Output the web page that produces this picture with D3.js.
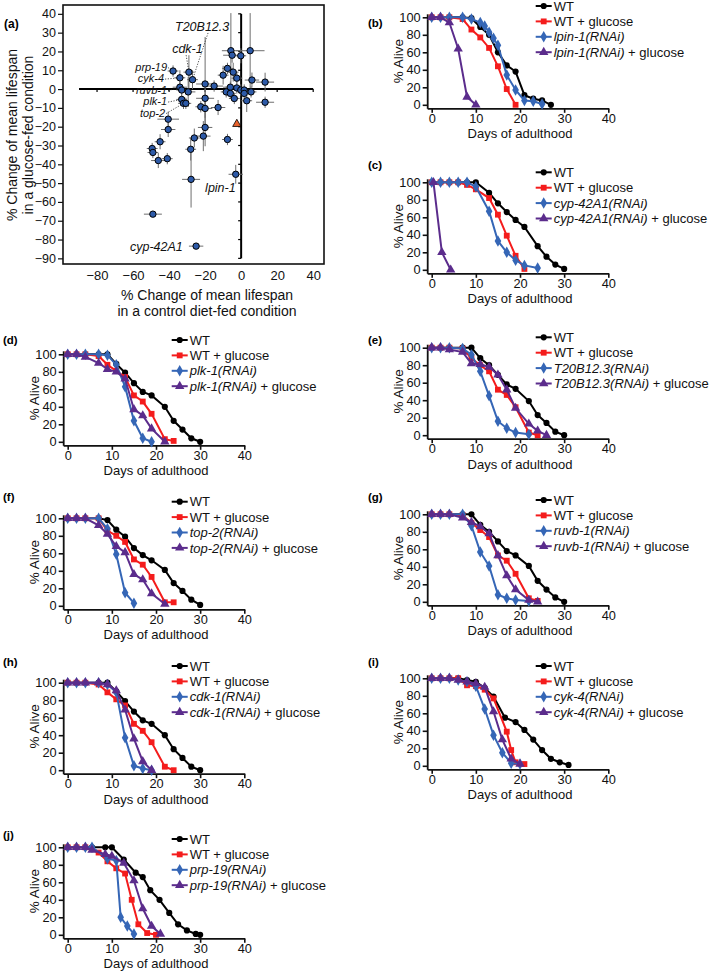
<!DOCTYPE html>
<html><head><meta charset="utf-8">
<script src="https://cdn.jsdelivr.net/npm/d3@7"></script>
<style>body{margin:0;background:#fff} svg{display:block;font-family:"Liberation Sans",Arial,sans-serif}</style>
</head><body><svg id="c" width="709" height="972"></svg>
<script>
// ---------------- DATA: panel (a) scatter ----------------
const scatterX = [-37.8,-34,-34,-33,-33,-32,-30.7,-29.4,-29,-27,-20,-15,-20,-22.4,-20,-12.8,-20,-21,-26,-28,-7.6,-5.7,-5,5,-0.2,-7.6,-10,-4.4,-2.4,6,13.3,-6,-8.3,-6,-3.8,-2.4,-0.2,1.7,1.7,5.5,3.1,13.3,-40.5,-40.5,-45,-49.4,-49,-46,-41,-27.8,-3,-49,-25];
const scatterY = [9.6,6,1,-0.5,-5.5,-7.6,-7.6,-1.5,9,5,2.7,1.6,-4.9,-9.4,-10.3,-9.8,-20.4,-25,-26,-32,-26.8,20.4,18,20.4,17.7,11,7.4,9,5.8,4.8,3.7,1,-1.5,-2.3,-5,0.6,-0.5,-0.5,-2.3,-1.5,-6.2,-7,-16,-21.5,-28,-31.6,-33.7,-38,-37,-48,-45.3,-66.5,-83.5];
const scatterErrX = [3,3,4,3,3,3,3,4,3,3,5,5,5,3,4,4,4,4,3,3,3,5,5,8,3,3,3,3,3,4,5,4,3,3,3,3,3,3,3,3,3,5,6,4,3,3,3,4,3,5,4,5,4];
const scatterErrY = [3,4,3,3,3,3,3,8,9,5,25,3,5,3,5,4,10,8,5,6,3,20,4,20,4,3,5,5,3,4,5,3,3,3,3,3,3,3,3,3,6,3,4,4,4,3,3,4,3,15,5,0,0];
const outlierPoint = [-2.4, -18.6];
const geneLabels = ["T20B12.3","cdk-1","prp-19","cyk-4","ruvb-1","plk-1","top-2","lpin-1","cyp-42A1"];
const geneLabelPos = [[-36.7,30.9],[-38.3,19.1],[-41.1,9.8],[-42.8,3.7],[-41.1,-2.4],[-41.1,-8.5],[-42.2,-14.6],[-20,-54.8],[-61.7,-86.2]];
const geneLabelPoint = [9,8,0,1,2,4,5,null,null];
const yTicksA = [40,30,20,10,0,-10,-20,-30,-40,-50,-60,-70,-80,-90];
const xTicksA = [-80,-60,-40,-20,0,20,40];

// ---------------- DATA: survival panels ----------------
const survB = {gene:"lpin-1",
 wt:[[0,100],[2,100],[4,100],[7,100],[9,99],[11,89],[13,80],[15,60],[17,45],[19,38],[21,11],[23,7],[25,5],[27,0]],
 wtg:[[0,100],[2,100],[4,100],[7,98],[9,86],[11,77],[13,65],[15,44],[17,18],[19,0]],
 rnai:[[0,100],[2,100],[4,100],[7,100],[9,98],[11,94],[12,90],[13,83],[14,76],[15,68],[17,34],[19,17],[21,5],[23,4],[25,1]],
 rnaig:[[0,100],[2,100],[4,94],[6,64],[8,9],[10,0]]};
const survC = {gene:"cyp-42A1",
 wt:[[0,100],[2,100],[4,100],[6,100],[8,100],[10,100],[13,88],[15,76],[17,66],[19,57],[21,49],[24,27],[26,15],[28,6],[30,1]],
 wtg:[[0,100],[2,100],[4,100],[6,100],[8,97],[10,92],[13,82],[15,63],[17,39],[19,16],[21,1]],
 rnai:[[0,100],[2,100],[4,100],[6,100],[8,100],[10,95],[13,67],[15,33],[17,20],[19,11],[21,5],[24,2]],
 rnaig:[[0.4,100],[2.3,20],[4.3,0]]};
const survD = {gene:"plk-1",
 wt:[[0,100],[2,100],[4,100],[7,100],[9,100],[11,89],[13,79],[15,67],[17,57],[19,53],[22,40],[24,24],[26,14],[28,4],[30,0]],
 wtg:[[0,100],[2,100],[4,100],[7,98],[9,88],[11,81],[13,74],[15,53],[17,46],[19,32],[22,3],[24,1]],
 rnai:[[0,100],[2,100],[4,100],[7,100],[9,99],[11,88],[13,63],[15,24],[17,4],[19,0]],
 rnaig:[[0,100],[2,100],[4,97],[7,90],[9,83],[11,80],[13,72],[15,37],[17,30],[19,15],[22,0]]};
const survE = {gene:"T20B12.3",
 wt:[[0,100],[2,100],[4,100],[7,100],[9,100],[11,88],[13,80],[15,69],[17,58],[19,53],[22,39],[24,23],[26,14],[28,4],[30,0]],
 wtg:[[0,100],[2,100],[4,100],[7,99],[9,88],[11,80],[13,73],[15,52],[17,46],[19,32],[22,3],[24,0]],
 rnai:[[0,100],[2,100],[4,100],[7,99],[9,92],[11,73],[13,45],[15,16],[17,8],[19,3],[22,1]],
 rnaig:[[0,100],[2,100],[4,98],[7,95],[9,82],[11,81],[13,78],[15,69],[17,52],[19,31],[22,13],[24,5],[26,0]]};
const survF = {gene:"top-2",
 wt:[[0,100],[2,100],[4,100],[7,100],[9,98],[11,87],[13,79],[15,66],[17,58],[19,52],[22,41],[24,26],[26,17],[28,7],[30,1]],
 wtg:[[0,100],[2,100],[4,100],[7,100],[9,86],[11,80],[13,73],[15,53],[17,47],[19,33],[22,4],[24,4]],
 rnai:[[0,100],[2,100],[4,100],[7,100],[9,88],[11,59],[13,15],[15,3]],
 rnaig:[[0,100],[2,100],[4,100],[7,92],[9,82],[11,68],[13,61],[15,36],[17,30],[19,14],[22,2]]};
const survG = {gene:"ruvb-1",
 wt:[[0,100],[2,100],[4,100],[7,100],[9,100],[11,88],[13,80],[15,69],[17,58],[19,53],[22,41],[24,24],[26,14],[28,5],[30,0]],
 wtg:[[0,100],[2,100],[4,100],[7,99],[9,90],[11,82],[13,74],[15,53],[17,47],[19,32],[22,4],[24,1]],
 rnai:[[0,100],[2,100],[4,100],[7,100],[9,87],[11,57],[13,41],[15,8],[17,4],[19,2],[22,1]],
 rnaig:[[0,100],[2,100],[4,100],[7,96],[9,91],[11,86],[13,78],[15,53],[17,30],[19,14],[22,2],[24,0]]};
const survH = {gene:"cdk-1",
 wt:[[0,100],[2,100],[4,100],[7,100],[9,100],[11,90],[13,79],[15,67],[17,57],[19,53],[22,40],[24,24],[26,14],[28,4],[30,0]],
 wtg:[[0,100],[2,100],[4,100],[7,98],[9,89],[11,81],[13,74],[15,53],[17,45],[19,32],[22,4],[24,0]],
 rnai:[[0,100],[2,100],[4,100],[7,100],[9,98],[11,89],[13,37],[15,5],[17,2],[19,0]],
 rnaig:[[0,100],[2,100],[4,100],[7,100],[9,98],[11,91],[13,69],[15,36],[17,10],[19,0]]};
const survI = {gene:"cyk-4",
 wt:[[0,100],[2,100],[4,100],[6,100],[8,98],[10,96],[12,89],[14,79],[16.6,55],[19,50],[21,41],[23,30],[25,18],[27,8],[29,4],[31,1]],
 wtg:[[0,100],[2,100],[4,100],[6,100],[8,92],[10,91],[12,87],[14,77],[17,39],[18,18],[19,4],[21,2]],
 rnai:[[0,100],[2,100],[4,100],[6,98],[8,96],[10,91],[12,65],[14,35],[16,15],[18,3],[20,2]],
 rnaig:[[0,100],[2,100],[4,100],[6,98],[8,96],[10,94],[12,90],[14,62],[16,30],[18,8],[20,2]]};
const survJ = {gene:"prp-19",
 wt:[[0,100],[2,100],[4,100],[5.5,100],[8.5,100],[10,100],[12.7,86],[15.4,71],[17,66],[18.7,51],[20.8,40],[23,25],[25,12],[27,5],[29,1],[30,0]],
 wtg:[[0,100],[2,100],[4,100],[7,94],[9,84],[11,76],[13,70],[14.5,40],[16,12],[18,2],[20,0]],
 rnai:[[0,100],[2,100],[4,100],[5.5,100],[9,87],[11,85],[12,20],[13.5,10],[15,1]],
 rnaig:[[0,100],[2,100],[4,100],[5.5,97],[8.5,92],[10,90],[12.7,82],[15,62],[17,30],[19,10],[21,1]]};
const survTicksY = [0,20,40,60,80,100];
const survTicksX = [0,10,20,30,40];

// ---------------- LAYOUT ----------------
const panels = [
 {id:"(b)", d:survB, x0:431.7, top:17.3, leg:6,   lab:[368,23]},
 {id:"(c)", d:survC, x0:431.7, top:182.3, leg:172.3, lab:[368,165]},
 {id:"(d)", d:survD, x0:67.7, top:354.3, leg:340, lab:[3,340]},
 {id:"(e)", d:survE, x0:431.7, top:347.7, leg:337.3, lab:[368,340]},
 {id:"(f)", d:survF, x0:67.7, top:518.3, leg:501.7, lab:[3,497]},
 {id:"(g)", d:survG, x0:431.7, top:514.3, leg:500, lab:[368,497]},
 {id:"(h)", d:survH, x0:67.7, top:682.7, leg:666, lab:[3,662]},
 {id:"(i)", d:survI, x0:431.7, top:678.3, leg:666, lab:[368,662]},
 {id:"(j)", d:survJ, x0:67.7, top:847.3, leg:839, lab:[3,835]}
];
const COLORS = {wt:"#000000", wtg:"#f41c1c", rnai:"#3566b6", rnaig:"#5b2c8c"};
const SYMS = {wt:d3.symbolCircle, wtg:d3.symbolSquare, rnai:d3.symbolDiamond, rnaig:d3.symbolTriangle};
const SYMSIZE = {wt:30, wtg:34, rnai:38, rnaig:38};

const svg = d3.select("#c");

// ---------------- PANEL (a) ----------------
(function(){
  const g = svg.append("g");
  const sx = d3.scaleLinear().domain([-98.9,46]).range([63,324]);
  const sy = d3.scaleLinear().domain([44.7,-93]).range([5,264]);
  g.append("text").attr("x",4).attr("y",28).attr("font-size",12).attr("font-weight","bold").text("(a)");
  g.append("rect").attr("x",63).attr("y",5).attr("width",261).attr("height",259)
    .attr("fill","none").attr("stroke","#111").attr("stroke-width",1.6);
  const ya = d3.axisLeft(sy).tickValues(yTicksA).tickSize(5).tickPadding(2).tickFormat(d=>String(d).replace("-","\u2212"));
  const yg = g.append("g").attr("transform","translate(63,0)").call(ya);
  yg.select(".domain").remove();
  yg.selectAll("text").attr("font-size",12.5).attr("font-family","Liberation Sans, Arial").attr("fill","#111");
  yg.selectAll("line").attr("stroke","#111").attr("stroke-width",1.2);
  const xa = d3.axisBottom(sx).tickValues(xTicksA).tickSize(0).tickPadding(7).tickFormat(d=>String(d).replace("-","\u2212"));
  const xg = g.append("g").attr("transform","translate(0,264)").call(xa);
  xg.select(".domain").remove();
  xg.selectAll("text").attr("font-size",13).attr("font-family","Liberation Sans, Arial").attr("fill","#111");
  g.append("line").attr("x1",sx(-90)).attr("x2",sx(40)).attr("y1",sy(0)).attr("y2",sy(0)).attr("stroke","#000").attr("stroke-width",2);
  g.append("line").attr("x1",sx(0)).attr("x2",sx(0)).attr("y1",sy(40)).attr("y2",sy(-90)).attr("stroke","#000").attr("stroke-width",2);
  g.selectAll(".hx").data(d3.range(-80,41,20)).enter().append("line")
    .attr("x1",d=>sx(d)).attr("x2",d=>sx(d)).attr("y1",sy(0)).attr("y2",sy(0)+3).attr("stroke","#000").attr("stroke-width",1.2);
  g.selectAll(".vy").data(d3.range(-90,41,10)).enter().append("line")
    .attr("x1",sx(0)-3).attr("x2",sx(0)).attr("y1",d=>sy(d)).attr("y2",d=>sy(d)).attr("stroke","#000").attr("stroke-width",1.2);
  const idx = d3.range(scatterX.length);
  const eb = g.append("g").attr("stroke","#6e6e6e").attr("stroke-width",1);
  eb.selectAll(".ex").data(idx).enter().append("line")
    .attr("x1",i=>sx(scatterX[i]-scatterErrX[i])).attr("x2",i=>sx(scatterX[i]+scatterErrX[i]))
    .attr("y1",i=>sy(scatterY[i])).attr("y2",i=>sy(scatterY[i]));
  eb.selectAll(".ey").data(idx).enter().append("line")
    .attr("x1",i=>sx(scatterX[i])).attr("x2",i=>sx(scatterX[i]))
    .attr("y1",i=>sy(scatterY[i]-scatterErrY[i])).attr("y2",i=>sy(scatterY[i]+scatterErrY[i]));
  geneLabels.forEach((lab,k)=>{
    const p = geneLabelPos[k], t = geneLabelPoint[k];
    if (t===null) return;
    let lx, ly;
    if (k<2){ lx = sx(p[0]) + (k===0?33:14); ly = sy(p[1])+2; }
    else { lx = sx(p[0])+1; ly = sy(p[1])-3; }
    g.append("line").attr("x1",lx).attr("y1",ly).attr("x2",sx(scatterX[t])).attr("y2",sy(scatterY[t]))
      .attr("stroke","#222").attr("stroke-width",0.8).attr("stroke-dasharray","1.2,1.5");
  });
  g.selectAll(".pt").data(idx).enter().append("circle")
    .attr("cx",i=>sx(scatterX[i])).attr("cy",i=>sy(scatterY[i])).attr("r",3.2)
    .attr("fill","#2d5aa8").attr("stroke","#000").attr("stroke-width",1);
  g.append("path").attr("d",d3.symbol(d3.symbolTriangle,30)())
    .attr("transform",`translate(${sx(outlierPoint[0])},${sy(outlierPoint[1])})`)
    .attr("fill","#e8622c").attr("stroke","#000").attr("stroke-width",0.8);
  geneLabels.forEach((lab,k)=>{
    const p = geneLabelPos[k];
    const packed = (k>=2 && k<=6);
    g.append("text").attr("x",sx(p[0])).attr("y",sy(p[1]))
      .attr("text-anchor",packed?"end":"start")
      .attr("font-size",packed?11:12.5).attr("font-style","italic").attr("fill","#111").text(lab);
  });
  g.append("text").attr("transform","translate(17,135) rotate(-90)").attr("text-anchor","middle").attr("font-size",14).attr("fill","#111").text("% Change of mean lifespan");
  g.append("text").attr("transform","translate(33,135) rotate(-90)").attr("text-anchor","middle").attr("font-size",14).attr("fill","#111").text("in a glucose-fed condition");
  g.append("text").attr("x",207).attr("y",300).attr("text-anchor","middle").attr("font-size",14).attr("fill","#111").text("% Change of mean lifespan");
  g.append("text").attr("x",207).attr("y",316).attr("text-anchor","middle").attr("font-size",14).attr("fill","#111").text("in a control diet-fed condition");
})();

// ---------------- SURVIVAL PANELS ----------------
function drawSurvival(p){
  const g = svg.append("g");
  const x = d3.scaleLinear().domain([0,40]).range([p.x0, p.x0+176.6]);
  const y = d3.scaleLinear().domain([0,100]).range([p.top+87.5, p.top]);
  const axY = y(0)+4, axX = p.x0-4;
  g.append("text").attr("x",p.lab[0]).attr("y",p.lab[1]+4).attr("font-size",11.5).attr("font-weight","bold").text(p.id);
  const ya = d3.axisLeft(y).tickValues(survTicksY).tickSize(5).tickPadding(2).tickSizeOuter(0);
  const yg = g.append("g").attr("transform",`translate(${axX},0)`).call(ya);
  yg.select(".domain").remove();
  const xa = d3.axisBottom(x).tickValues(survTicksX).tickSize(4).tickPadding(1).tickSizeOuter(0);
  const xg = g.append("g").attr("transform",`translate(0,${axY})`).call(xa);
  xg.select(".domain").remove();
  [yg,xg].forEach(a=>{
    a.selectAll("text").attr("font-size",12.8).attr("font-family","Liberation Sans, Arial").attr("fill","#111");
    a.selectAll("line").attr("stroke","#111").attr("stroke-width",1.6);
  });
  g.append("line").attr("x1",axX).attr("x2",axX).attr("y1",y(100)-3).attr("y2",axY).attr("stroke","#111").attr("stroke-width",1.8);
  g.append("line").attr("x1",axX).attr("x2",x(40)+1).attr("y1",axY).attr("y2",axY).attr("stroke","#111").attr("stroke-width",1.8);
  g.append("text").attr("transform",`translate(${p.x0-29},${y(50)}) rotate(-90)`).attr("text-anchor","middle")
    .attr("font-size",13.5).attr("fill","#111").text("% Alive");
  g.append("text").attr("x",x(20)).attr("y",axY+29.5).attr("text-anchor","middle").attr("font-size",13).attr("fill","#111").text("Days of adulthood");
  const line = d3.line().x(d=>x(d[0])).y(d=>y(d[1]));
  ["wt","wtg","rnai","rnaig"].forEach(k=>{
    const pts = p.d[k];
    g.append("path").attr("d",line(pts)).attr("fill","none").attr("stroke",COLORS[k]).attr("stroke-width",2);
    g.selectAll(null).data(pts).enter().append("path")
      .attr("d",d3.symbol(SYMS[k],SYMSIZE[k])())
      .attr("transform",d=>`translate(${x(d[0])},${y(d[1])})`).attr("fill",COLORS[k]);
  });
  const lx = p.x0+104;
  ["wt","wtg","rnai","rnaig"].forEach((k,i)=>{
    const ly = p.leg + i*15.4;
    g.append("line").attr("x1",lx).attr("x2",lx+16).attr("y1",ly).attr("y2",ly).attr("stroke",COLORS[k]).attr("stroke-width",2);
    g.append("path").attr("d",d3.symbol(SYMS[k],SYMSIZE[k])()).attr("transform",`translate(${lx+8},${ly})`).attr("fill",COLORS[k]);
    const t = g.append("text").attr("x",lx+18).attr("y",ly+4.6).attr("font-size",13).attr("fill","#111");
    if (k==="wt") t.text("WT");
    else if (k==="wtg") t.text("WT + glucose");
    else {
      t.append("tspan").attr("font-style","italic").text(p.d.gene+"(RNAi)");
      if (k==="rnaig") t.append("tspan").text(" + glucose");
    }
  });
}
panels.forEach(drawSurvival);
</script></body></html>
